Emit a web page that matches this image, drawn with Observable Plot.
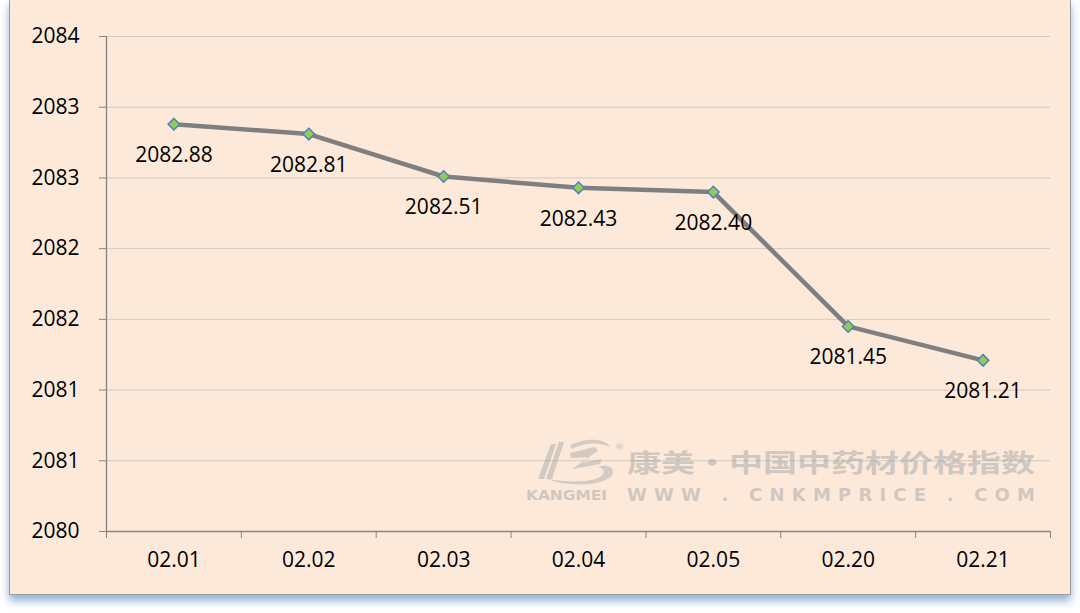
<!DOCTYPE html>
<html><head><meta charset="utf-8">
<script src="https://cdn.jsdelivr.net/npm/d3@7"></script>
<script src="https://cdn.jsdelivr.net/npm/@observablehq/plot@0.6"></script>
<style>
html,body{margin:0;padding:0;background:#fff;width:1080px;height:613px;overflow:hidden;}
#frame{position:absolute;left:9px;top:-1px;width:1062px;height:596px;box-sizing:border-box;border:1px solid #9a9a9a;background:#FDE9D9;box-shadow:0 6px 8px rgba(79,129,189,0.6);}
#chart{position:absolute;left:0;top:1px;}
#wm{position:absolute;left:0;top:1px;pointer-events:none;}
</style></head>
<body>
<div id="frame"><div id="chart"></div>
<svg id="wm" width="1060" height="594" xmlns="http://www.w3.org/2000/svg">
  <g fill="#9aa0a6" opacity="0.42" stroke="none">
    <path d="M528 478 L541 443 L546 443 L534 478 Z"/>
    <path d="M536 478 L549 441 L554 441 L542 478 Z"/>
    <path d="M560 452 L585 446 L588 450 L570 462 L592 458 L590 463 L562 468 L580 456 L561 457 Z"/>
    <path d="M535 477 C560 488 600 484 603 472 C604 466 596 463 588 466 C598 468 596 478 575 480 C560 481 545 480 535 477 Z"/>
    <path d="M560 445 C570 437 595 436 600 446 C590 441 575 441 562 448 Z"/>
  </g>
  <g fill="#9aa0a6" opacity="0.45" font-weight="bold">
    <text x="605" y="449" font-size="9" font-family="DejaVu Sans">®</text>
    <text x="617" y="471" font-size="25" font-family="Noto Sans CJK SC" textLength="408" lengthAdjust="spacingAndGlyphs">康美·中国中药材价格指数</text>
    <text x="516" y="499" font-size="14" font-family="DejaVu Sans" textLength="81" lengthAdjust="spacingAndGlyphs">KANGMEI</text>
    <text x="617" y="500" font-size="18" font-family="DejaVu Sans" textLength="408" lengthAdjust="spacing">WWW . CNKMPRICE . COM</text>
  </g>
</svg>
</div>
<script>
const categories = ["02.01","02.02","02.03","02.04","02.05","02.20","02.21"];
const values = [2082.88, 2082.81, 2082.51, 2082.43, 2082.40, 2081.45, 2081.21];
const valueLabels = ["2082.88","2082.81","2082.51","2082.43","2082.40","2081.45","2081.21"];
const yTicks = [2080, 2080.5, 2081, 2081.5, 2082, 2082.5, 2083, 2083.5];
const yTickLabels = ["2080","2081","2081","2082","2082","2083","2083","2084"];

const data = categories.map((c, i) => ({x: i + 0.5, cat: c, v: values[i], label: valueLabels[i]}));
const boundaries = d3.range(categories.length + 1);
const axisColor = "#868686";
const font = "'Open Sans', sans-serif";

const chart = Plot.plot({
  width: 1060, height: 594,
  marginLeft: 96, marginRight: 20, marginTop: 35, marginBottom: 64,
  style: {background: "transparent", fontFamily: font, fontSize: "21px", color: "#000", overflow: "visible"},
  x: {type: "linear", domain: [0, categories.length], axis: null, label: null},
  y: {domain: [yTicks[0], yTicks[yTicks.length - 1]], axis: null, label: null},
  marks: [
    Plot.ruleY(yTicks.slice(1), {stroke: "#d3c9bf", strokeWidth: 1}),
    Plot.axisY({ticks: yTicks, tickFormat: d => yTickLabels[yTicks.indexOf(d)], tickSize: 7, tickPadding: 20,
      stroke: axisColor, fill: "#000", fontSize: 21, label: null}),
    Plot.axisX({ticks: boundaries, tickFormat: () => "", tickSize: 7, stroke: axisColor, label: null}),
    Plot.axisX({ticks: data.map(d => d.x), tickFormat: d => categories[Math.floor(d)], tickSize: 0, tickPadding: 21,
      fill: "#000", fontSize: 21, label: null}),
    Plot.ruleY([yTicks[0]], {stroke: axisColor, strokeWidth: 1.3}),
    Plot.ruleX([0], {stroke: axisColor, strokeWidth: 1.3}),
    Plot.line(data, {x: "x", y: "v", stroke: "#7f7f7f", strokeWidth: 4.5}),
    Plot.dot(data, {x: "x", y: "v", symbol: "diamond2", r: 5.2, fill: "#92CC50", stroke: "#4F81BD", strokeWidth: 1.5}),
    Plot.text(data, {x: "x", y: "v", text: "label", dy: 31, fontSize: 21, fill: "#000"})
  ]
});
document.getElementById("chart").appendChild(chart);
</script>
</body></html>
